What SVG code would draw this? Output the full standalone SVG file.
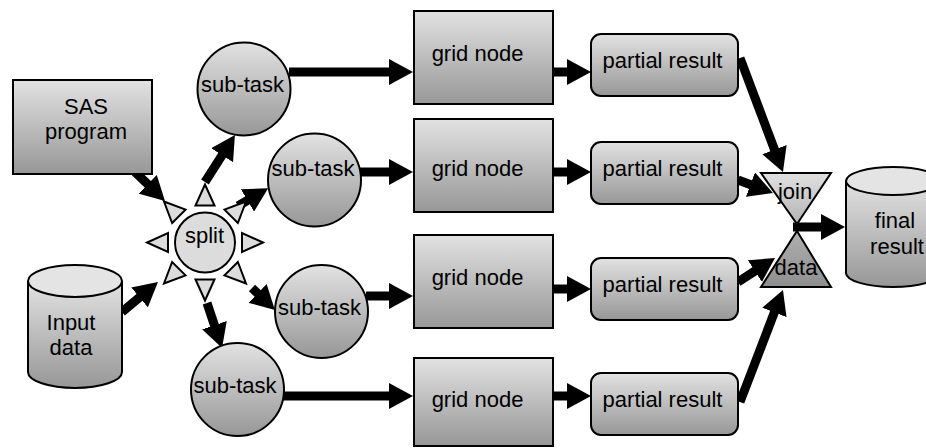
<svg xmlns="http://www.w3.org/2000/svg" width="926" height="448" viewBox="0 0 926 448">
<defs>
<linearGradient id="g" x1="0" y1="0" x2="0" y2="1">
<stop offset="0" stop-color="#e2e2e2"/>
<stop offset="1" stop-color="#979797"/>
</linearGradient>
<linearGradient id="gj" x1="0" y1="0" x2="0" y2="1">
<stop offset="0" stop-color="#e0e0e0"/>
<stop offset="1" stop-color="#b4b4b4"/>
</linearGradient>
<linearGradient id="gd" x1="0" y1="0" x2="0" y2="1">
<stop offset="0" stop-color="#b0b0b0"/>
<stop offset="1" stop-color="#8e8e8e"/>
</linearGradient>
<marker id="ah" markerUnits="userSpaceOnUse" markerWidth="26" markerHeight="26" refX="4" refY="13" orient="auto">
<path d="M0,0 L24,13 L0,26 Z" fill="#000"/>
</marker>
<path id="ray" d="M-9.5,-37 L9.5,-37 L0,-58 Z"/>
</defs>
<style>
.n{fill:url(#g);stroke:#000;stroke-width:2}
.t{font-family:"Liberation Sans",Arial,sans-serif;font-size:22px;fill:#000;text-anchor:middle}
.c line{stroke:#000;stroke-width:9;marker-end:url(#ah)}
.ray{fill:#dcdcdc;stroke:#000;stroke-width:2}
</style>
<g class="c" id="connectors">
<line x1="135" y1="172" x2="150.6" y2="187.1"/>
<line x1="122" y1="312" x2="142.6" y2="294.8"/>
<line x1="205" y1="182" x2="224.2" y2="151.8"/>
<line x1="238" y1="206" x2="250.9" y2="198.4"/>
<line x1="252" y1="288" x2="260.5" y2="296.2"/>
<line x1="207" y1="303" x2="215.7" y2="329"/>
<line x1="289" y1="72" x2="393" y2="72"/>
<line x1="359" y1="172" x2="393" y2="172"/>
<line x1="553" y1="72" x2="571" y2="72"/>
<line x1="553" y1="172" x2="571" y2="172"/>
<line x1="366" y1="296" x2="393" y2="296"/>
<line x1="553" y1="289" x2="571" y2="289"/>
<line x1="282" y1="396" x2="393" y2="396"/>
<line x1="553" y1="396" x2="571" y2="396"/>
<line x1="740" y1="58" x2="775.9" y2="153.3"/>
<line x1="738" y1="180" x2="754.2" y2="186"/>
<line x1="738" y1="282" x2="758.2" y2="268.9"/>
<line x1="740" y1="402" x2="775.8" y2="308.7"/>
<line x1="793" y1="227" x2="825" y2="227"/>
</g>
<g id="sas">
<rect class="n" x="13" y="80" width="139" height="94"/>
<text class="t" x="86" y="114">SAS</text>
<text class="t" x="86" y="139">program</text>
</g>
<g id="input">
<path class="n" d="M28,281 L28,372 A47,16 0 0 0 122,372 L122,281"/>
<ellipse cx="75" cy="281" rx="47" ry="16" fill="#e4e4e4" stroke="#000" stroke-width="2"/>
<text class="t" x="71" y="330">Input</text>
<text class="t" x="71" y="355">data</text>
</g>
<g id="split">
<g transform="translate(205,242.5)">
<use href="#ray" class="ray"/>
<use href="#ray" class="ray" transform="rotate(45)"/>
<use href="#ray" class="ray" transform="rotate(90)"/>
<use href="#ray" class="ray" transform="rotate(135)"/>
<use href="#ray" class="ray" transform="rotate(180)"/>
<use href="#ray" class="ray" transform="rotate(225)"/>
<use href="#ray" class="ray" transform="rotate(270)"/>
<use href="#ray" class="ray" transform="rotate(315)"/>
</g>
<circle cx="205" cy="242.5" r="30" fill="#dcdcdc" stroke="#000" stroke-width="2"/>
<text class="t" x="204.5" y="243">split</text>
</g>
<g id="subtask1">
<circle class="n" cx="244" cy="89" r="46.5"/>
<text class="t" x="242.5" y="92">sub-task</text>
</g>
<g id="subtask2">
<circle class="n" cx="314.5" cy="180" r="46.5"/>
<text class="t" x="313" y="176">sub-task</text>
</g>
<g id="subtask3">
<circle class="n" cx="321.5" cy="311.5" r="46.5"/>
<text class="t" x="319.5" y="315">sub-task</text>
</g>
<g id="subtask4">
<circle class="n" cx="237.5" cy="389.5" r="46.5"/>
<text class="t" x="235" y="393">sub-task</text>
</g>
<g id="grid1">
<rect class="n" x="414" y="11" width="139" height="93"/>
<text class="t" x="477.5" y="61">grid node</text>
</g>
<g id="grid2">
<rect class="n" x="414" y="119" width="139" height="93"/>
<text class="t" x="477.5" y="176">grid node</text>
</g>
<g id="grid3">
<rect class="n" x="414" y="235" width="139" height="93"/>
<text class="t" x="477.5" y="285">grid node</text>
</g>
<g id="grid4">
<rect class="n" x="414" y="358" width="139" height="88"/>
<text class="t" x="477.5" y="407">grid node</text>
</g>
<g id="partial1">
<rect class="n" x="591" y="34" width="147" height="62" rx="10"/>
<text class="t" x="662.5" y="68">partial result</text>
</g>
<g id="partial2">
<rect class="n" x="591" y="142" width="147" height="62" rx="10"/>
<text class="t" x="662.5" y="176">partial result</text>
</g>
<g id="partial3">
<rect class="n" x="591" y="258" width="147" height="62" rx="10"/>
<text class="t" x="662.5" y="292">partial result</text>
</g>
<g id="partial4">
<rect class="n" x="591" y="373" width="147" height="62" rx="10"/>
<text class="t" x="662.5" y="407">partial result</text>
</g>
<g id="join">
<path d="M761,173 L831,173 L797,224 Z" fill="url(#gj)" stroke="#000" stroke-width="2"/>
<text class="t" x="795" y="199">join</text>
</g>
<g id="data">
<path d="M797,231 L831,287 L761,287 Z" fill="url(#gd)" stroke="#000" stroke-width="2"/>
<text class="t" x="796" y="275">data</text>
</g>
<g id="final">
<path class="n" d="M846,181 L846,273 A47,14 0 0 0 940,273 L940,181"/>
<ellipse cx="893" cy="181" rx="47" ry="14" fill="#e4e4e4" stroke="#000" stroke-width="2"/>
<text class="t" x="895" y="228">final</text>
<text class="t" x="897" y="254">result</text>
</g>
</svg>
